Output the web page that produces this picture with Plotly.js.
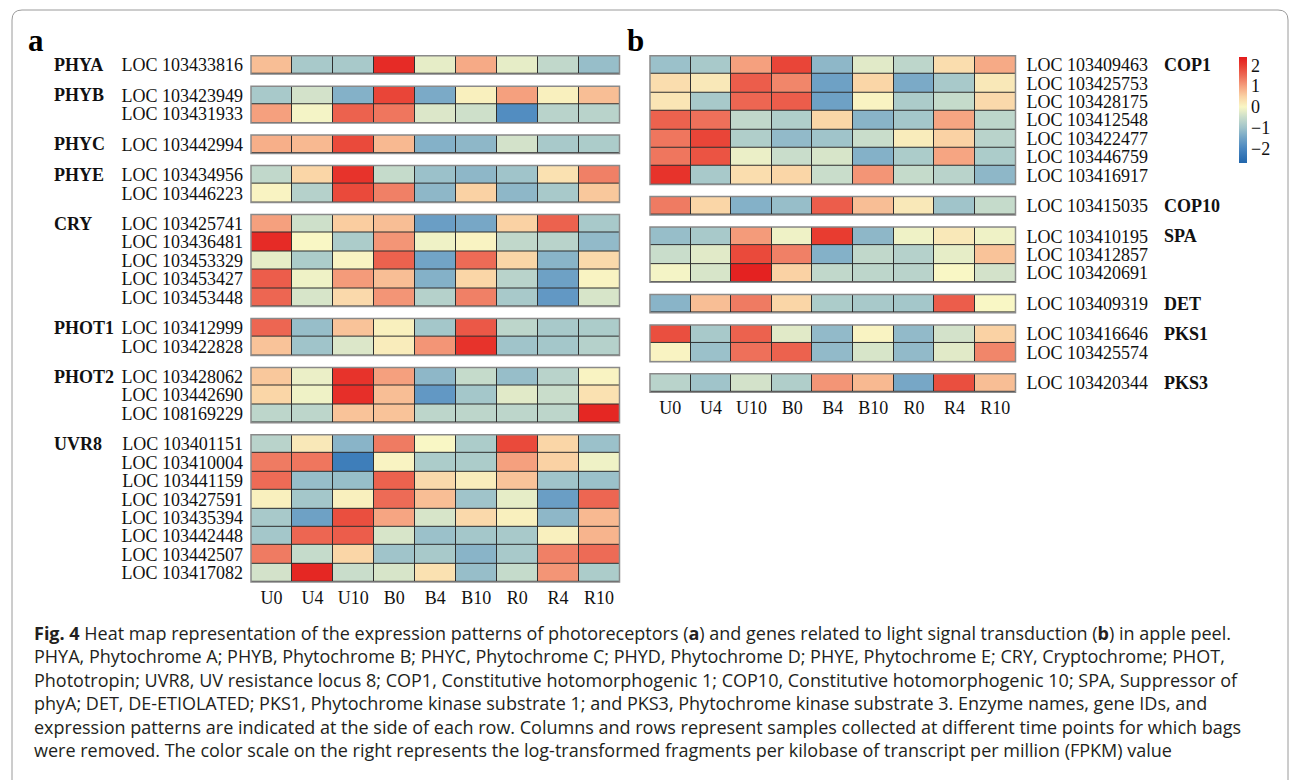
<!DOCTYPE html>
<html>
<head>
<meta charset="utf-8">
<script src="https://cdn.plot.ly/plotly-3.0.1.min.js"></script>
<style>
  html, body { margin: 0; padding: 0; background: #ffffff; }
  #chart { width: 1290px; height: 780px; }
</style>
</head>
<body>
<div id="chart"></div>
<script>
// Sample columns (time points after bag removal)
const samples = ['U0', 'U4', 'U10', 'B0', 'B4', 'B10', 'R0', 'R4', 'R10'];

// ---- Panel a: photoreceptors (log-transformed FPKM, row-scaled) ----
const phyaGenes = ['LOC 103433816'];
const phyaValues = [
  [0.7, -0.9, -0.9, 2.2, -0.2, 0.9, -0.2, -0.6, -1.1]
];

const phybGenes = ['LOC 103423949', 'LOC 103431933'];
const phybValues = [
  [-0.9, -0.4, -1.3, 1.9, -1.4, 0.1, 1.0, 0.1, 0.7],
  [1.0, -0.05, 1.6, 1.4, -0.3, -0.45, -1.9, -0.7, -0.7]
];

const phycGenes = ['LOC 103442994'];
const phycValues = [
  [0.85, 0.75, 1.85, 0.75, -1.3, -1.2, -0.4, -0.9, -0.85]
];

const phyeGenes = ['LOC 103434956', 'LOC 103446223'];
const phyeValues = [
  [-0.6, 0.45, 2.1, -0.55, -1.05, -1.2, -1.0, 0.3, 1.3],
  [0.05, -0.75, 1.85, 1.3, -1.2, 0.5, -1.2, -0.9, 0.6]
];

const cryGenes = ['LOC 103425741', 'LOC 103436481', 'LOC 103453329', 'LOC 103453427', 'LOC 103453448'];
const cryValues = [
  [1.0, -0.45, 0.55, 0.7, -1.6, -1.45, 0.5, 1.6, -0.9],
  [2.2, 0.0, -0.85, 1.1, -0.1, 0.05, -0.6, -0.7, -1.15],
  [-0.2, -0.85, 0.05, 1.6, -1.5, 1.5, 0.45, -1.25, 0.4],
  [1.65, -0.1, 1.05, 0.7, -1.3, 0.45, -0.7, -1.55, 0.05],
  [1.55, -0.35, 0.4, 1.1, -0.75, 1.3, -0.9, -1.7, -0.35]
];

const phot1Genes = ['LOC 103412999', 'LOC 103422828'];
const phot1Values = [
  [1.55, -1.1, 0.65, 0.1, -0.95, 1.7, -0.65, -0.9, -0.85],
  [0.65, -1.0, -0.3, 0.15, 1.1, 2.1, -1.0, -0.95, -0.75]
];

const phot2Genes = ['LOC 103428062', 'LOC 103442690', 'LOC 108169229'];
const phot2Values = [
  [0.6, -0.15, 2.1, 1.0, -1.2, -0.55, -1.1, -0.7, 0.05],
  [0.45, -0.1, 2.15, 0.7, -1.7, -0.95, -0.25, -0.5, 0.3],
  [-0.65, -0.65, 0.65, 0.65, -0.65, -0.65, -0.65, -0.65, 2.25]
];

const uvr8Genes = ['LOC 103401151', 'LOC 103410004', 'LOC 103441159', 'LOC 103427591',
                   'LOC 103435394', 'LOC 103442448', 'LOC 103442507', 'LOC 103417082'];
const uvr8Values = [
  [-0.7, 0.2, -1.25, 1.35, 0.0, -0.85, 1.85, 0.45, -1.05],
  [1.35, 1.4, -2.2, 0.05, -0.85, -0.85, 1.0, 0.5, -0.1],
  [1.5, -1.1, -1.1, 1.6, 0.4, 0.15, 0.65, -1.0, -1.05],
  [0.1, -0.95, 0.1, 1.5, 0.7, -1.0, -0.2, -1.6, 1.55],
  [-0.9, -1.55, 1.8, 0.95, -0.35, 0.4, 0.1, -1.2, 0.75],
  [-0.95, 1.55, 1.65, -0.35, -1.05, -0.95, -0.9, 0.1, 0.8],
  [1.35, -0.55, 0.45, -1.0, -0.9, -1.25, -0.9, 1.3, 1.5],
  [-0.4, 2.25, -0.5, -0.35, 0.3, -1.1, -0.55, 1.1, -0.85]
];

// ---- Panel b: light signal transduction genes ----
const cop1Genes = ['LOC 103409463', 'LOC 103425753', 'LOC 103428175', 'LOC 103412548',
                   'LOC 103422477', 'LOC 103446759', 'LOC 103416917'];
const cop1Values = [
  [-1.05, -0.9, 1.0, 1.9, -1.2, -0.25, -0.65, 0.35, 0.9],
  [0.35, 0.2, 1.65, 1.25, -1.55, 0.45, -1.4, -0.9, 0.2],
  [0.25, -0.9, 1.55, 1.65, -1.55, 0.05, -0.85, -0.55, 0.4],
  [1.6, 1.45, -0.6, -0.8, 0.45, -1.25, -0.95, 0.95, -0.65],
  [1.4, 1.9, -0.8, -1.15, -1.0, -0.5, 0.15, 0.5, -0.7],
  [1.4, 1.75, -0.15, -0.5, -0.35, -1.3, -0.85, 0.95, -0.85],
  [2.1, -0.9, 0.35, 0.45, -0.5, 1.1, -0.55, -0.7, -1.2]
];

const cop10Genes = ['LOC 103415035'];
const cop10Values = [
  [1.35, 0.45, -1.3, -1.1, 1.65, 0.7, 0.2, -1.0, -0.55]
];

const spaGenes = ['LOC 103410195', 'LOC 103412857', 'LOC 103420691'];
const spaValues = [
  [-1.1, -0.9, 1.05, -0.1, 2.0, -1.2, -0.1, 0.2, -0.1],
  [-0.5, -0.25, 1.85, 1.3, -1.3, -0.6, -0.75, -0.2, 0.65],
  [-0.05, -0.35, 2.3, 0.5, -0.6, -0.65, -0.7, 0.0, -0.4]
];

const detGenes = ['LOC 103409319'];
const detValues = [
  [-1.25, 0.7, 1.35, 0.45, -0.85, -0.9, -0.95, 1.65, 0.0]
];

const pks1Genes = ['LOC 103416646', 'LOC 103425574'];
const pks1Values = [
  [1.8, -0.9, 1.6, -0.25, -1.15, 0.05, -1.15, -0.4, 0.5],
  [0.05, -1.05, 1.45, 1.6, -1.15, -0.35, -1.15, -0.25, 1.25]
];

const pks3Genes = ['LOC 103420344'];
const pks3Values = [
  [-0.7, -1.0, -0.4, -0.8, 1.1, 0.75, -1.45, 1.8, 0.7]
];

// Colour scale range and stops (value -> colour)
const zMin = -2.7;
const zMax = 2.4;
const scaleValues = [-2.7, -2.0, -1.5, -1.0, -0.5, 0.0, 0.5, 1.0, 1.5, 2.0, 2.4];
const scaleColors = ['#2166ac', '#4a87c0', '#72a4c6', '#a0c4ca', '#c9ddcb', '#f9f7c5',
                     '#fad2a4', '#f5a07e', '#ed6b56', '#e83c30', '#e31a1c'];
const colorbarTicks = [-2, -1, 0, 1, 2];
const colorbarLabels = ['\u22122', '\u22121', '0', '1', '2'];

// Caption lines
const captionLines = [
  '<b>Fig. 4</b> Heat map representation of the expression patterns of photoreceptors (<b>a</b>) and genes related to light signal transduction (<b>b</b>) in apple peel.',
  'PHYA, Phytochrome A; PHYB, Phytochrome B; PHYC, Phytochrome C; PHYD, Phytochrome D; PHYE, Phytochrome E; CRY, Cryptochrome; PHOT,',
  'Phototropin; UVR8, UV resistance locus 8; COP1, Constitutive hotomorphogenic 1; COP10, Constitutive hotomorphogenic 10; SPA, Suppressor of',
  'phyA; DET, DE-ETIOLATED; PKS1, Phytochrome kinase substrate 1; and PKS3, Phytochrome kinase substrate 3. Enzyme names, gene IDs, and',
  'expression patterns are indicated at the side of each row. Columns and rows represent samples collected at different time points for which bags',
  'were removed. The color scale on the right represents the log-transformed fragments per kilobase of transcript per million (FPKM) value'
];

// ---------------------------------------------------------------
const W = 1290, H = 780;
const ROW = 18.4;       // px per heatmap row
const GAP = 12.1;       // px between gene groups
const TOP = 55.7;       // px, top of first group
const SERIF = 'Liberation Serif, Times New Roman, serif';

const colorscale = scaleValues.map((v, i) => [(v - zMin) / (zMax - zMin), scaleColors[i]]);

const panels = [
  {
    xName: 'x', xLeft: 251, xRight: 619.5, side: 'left', groupLabelX: 52, standoff: 7,
    groups: [
      { name: 'PHYA', genes: phyaGenes, values: phyaValues },
      { name: 'PHYB', genes: phybGenes, values: phybValues },
      { name: 'PHYC', genes: phycGenes, values: phycValues },
      { name: 'PHYE', genes: phyeGenes, values: phyeValues },
      { name: 'CRY', genes: cryGenes, values: cryValues },
      { name: 'PHOT1', genes: phot1Genes, values: phot1Values },
      { name: 'PHOT2', genes: phot2Genes, values: phot2Values },
      { name: 'UVR8', genes: uvr8Genes, values: uvr8Values }
    ]
  },
  {
    xName: 'x2', xLeft: 650, xRight: 1015.5, side: 'right', groupLabelX: 1162, standoff: 10,
    groups: [
      { name: 'COP1', genes: cop1Genes, values: cop1Values },
      { name: 'COP10', genes: cop10Genes, values: cop10Values },
      { name: 'SPA', genes: spaGenes, values: spaValues },
      { name: 'DET', genes: detGenes, values: detValues },
      { name: 'PKS1', genes: pks1Genes, values: pks1Values },
      { name: 'PKS3', genes: pks3Genes, values: pks3Values }
    ]
  }
];

const traces = [];
const layout = {
  width: W, height: H,
  margin: { l: 0, r: 0, t: 0, b: 0, pad: 0 },
  paper_bgcolor: '#ffffff',
  plot_bgcolor: '#2f2f2f',
  showlegend: false,
  annotations: [],
  shapes: []
};

let axisIndex = 0;
panels.forEach(panel => {
  let y = TOP;
  let lastY = '';
  panel.groups.forEach(group => {
    axisIndex += 1;
    const yId = axisIndex === 1 ? 'y' : 'y' + axisIndex;
    const yKey = axisIndex === 1 ? 'yaxis' : 'yaxis' + axisIndex;
    const top = y;
    const bottom = y + group.genes.length * ROW;
    y = bottom + GAP;
    lastY = yId;

    traces.push({
      type: 'heatmap',
      x: samples,
      y: group.genes,
      z: group.values,
      xaxis: panel.xName,
      yaxis: yId,
      zmin: zMin, zmax: zMax,
      colorscale: colorscale,
      xgap: 1, ygap: 1,
      hoverinfo: 'skip',
      showscale: axisIndex === 1,
      colorbar: {
        thickness: 8, thicknessmode: 'pixels',
        len: 106, lenmode: 'pixels',
        x: 1239 / W, xanchor: 'left',
        y: 1 - 57 / H, yanchor: 'top',
        xpad: 0, ypad: 0,
        outlinewidth: 0,
        ticks: '',
        tickmode: 'array',
        tickvals: colorbarTicks,
        ticktext: colorbarLabels,
        tickfont: { family: SERIF, size: 18, color: '#111' }
      }
    });

    layout[yKey] = {
      domain: [1 - bottom / H, 1 - top / H],
      anchor: panel.xName,
      type: 'category',
      autorange: 'reversed',
      side: panel.side,
      showgrid: false, zeroline: false, showline: false,
      ticks: '',
      tickmode: 'array',
      tickvals: group.genes,
      ticktext: group.genes,
      ticklabelstandoff: panel.standoff,
      tickfont: { family: SERIF, size: 18, color: '#111' },
      fixedrange: true
    };

    // outer frame of the group block
    layout.shapes.push({
      type: 'rect', xref: panel.xName + ' domain', yref: yId + ' domain',
      x0: 0, x1: 1, y0: 0, y1: 1,
      line: { color: '#8a8a8a', width: 1.5 },
      fillcolor: 'rgba(0,0,0,0)'
    });

    // bold group name next to the first row
    layout.annotations.push({
      xref: 'paper', x: panel.groupLabelX / W, xanchor: 'left',
      yref: yId + ' domain', y: 1 - 0.5 / group.genes.length, yanchor: 'middle',
      text: '<b>' + group.name + '</b>', showarrow: false,
      font: { family: SERIF, size: 18, color: '#111' }
    });
  });

  const xKey = panel.xName === 'x' ? 'xaxis' : 'xaxis2';
  layout[xKey] = {
    domain: [panel.xLeft / W, panel.xRight / W],
    anchor: lastY,
    type: 'category',
    side: 'bottom',
    showgrid: false, zeroline: false, showline: false,
    ticks: '',
    tickmode: 'array',
    tickvals: samples,
    ticktext: samples,
    tickangle: 0,
    ticklabelstandoff: 3,
    tickfont: { family: SERIF, size: 18, color: '#111' },
    fixedrange: true
  };
});

// panel letters
layout.annotations.push(
  { xref: 'paper', yref: 'paper', x: 26 / W, y: 1 - 40 / H, xanchor: 'left', yanchor: 'middle',
    text: '<b>a</b>', showarrow: false, font: { family: SERIF, size: 31, color: '#000' } },
  { xref: 'paper', yref: 'paper', x: 625 / W, y: 1 - 40 / H, xanchor: 'left', yanchor: 'middle',
    text: '<b>b</b>', showarrow: false, font: { family: SERIF, size: 31, color: '#000' } }
);

// caption text: one multi-line block
const captionSize = 18;
const captionFirst = 633;
const captionStep = 1.3 * captionSize;
const captionCenter = captionFirst + captionStep * (captionLines.length - 1) / 2;
layout.annotations.push({
  xref: 'paper', yref: 'paper',
  x: 32 / W, xanchor: 'left', align: 'left',
  y: 1 - captionCenter / H, yanchor: 'middle',
  text: captionLines.join('<br>'), showarrow: false,
  font: { family: 'Open Sans, Noto Sans, sans-serif', size: captionSize, color: '#231f20' }
});

// rounded figure frame
const fx0 = 12 / W, fx1 = 1288 / W, fy0 = 1 - 10 / H, fyb = -0.05;
const rx = 10 / W, ry = 10 / H;
layout.shapes.push({
  type: 'path', xref: 'paper', yref: 'paper',
  path: `M ${fx0} ${fyb} L ${fx0} ${fy0 - ry} Q ${fx0} ${fy0} ${fx0 + rx} ${fy0} ` +
        `L ${fx1 - rx} ${fy0} Q ${fx1} ${fy0} ${fx1} ${fy0 - ry} L ${fx1} ${fyb}`,
  line: { color: '#9a9a9a', width: 1 }
});

Plotly.newPlot('chart', traces, layout, { staticPlot: true, displayModeBar: false });
</script>
</body>
</html>
